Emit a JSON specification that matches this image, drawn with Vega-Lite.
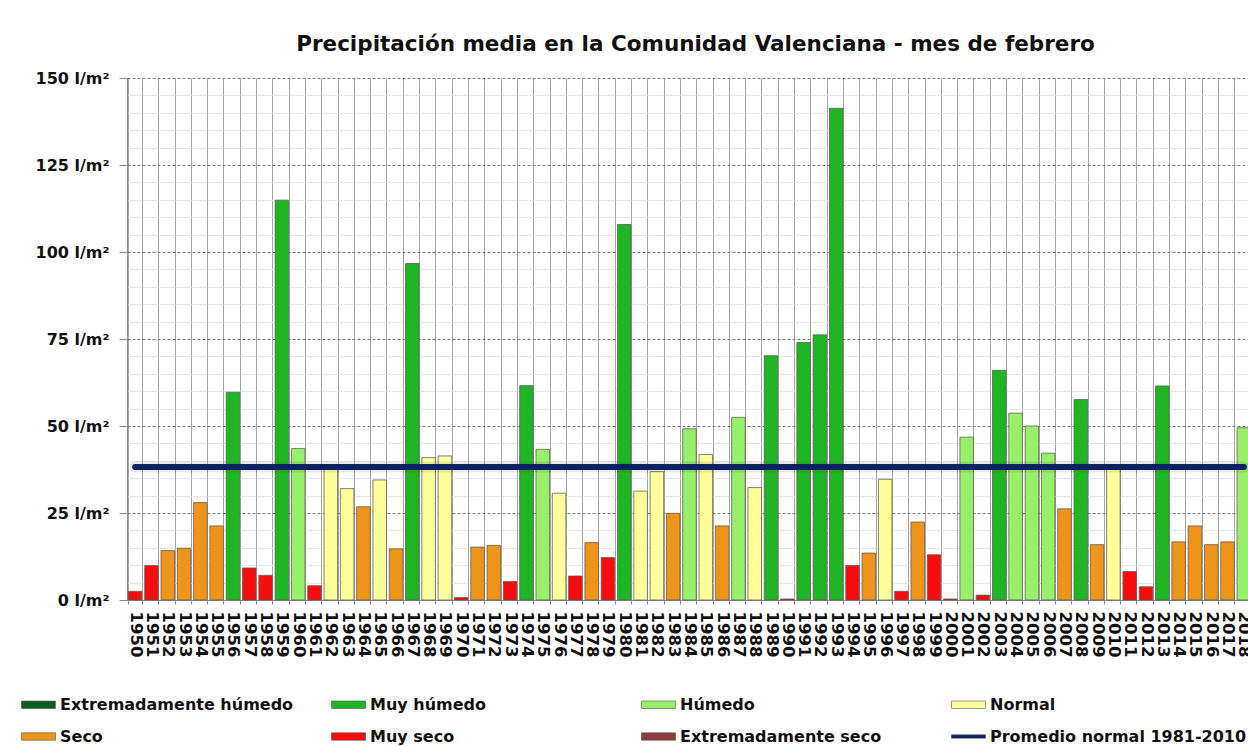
{
  "$schema": "https://vega.github.io/schema/vega-lite/v6.json",
  "autosize": "none",
  "padding": {"left": 127, "top": 78, "right": 0, "bottom": 146},
  "width": 1125,
  "height": 522,
  "background": "white",
  "title": {
    "text": "Precipitación media en la Comunidad Valenciana - mes de febrero",
    "font": "DejaVu Sans",
    "fontSize": 21.5,
    "fontWeight": "bold",
    "color": "#111111",
    "anchor": "middle",
    "dx": 6,
    "offset": 15
  },
  "config": {
    "view": {"stroke": null},
    "axis": {"labelFont": "DejaVu Sans", "labelFontWeight": "bold", "labelColor": "#111111"}
  },
  "data": {
    "values": [
      {"year": 1950, "value": 2.5, "cat": "Muy seco"},
      {"year": 1951, "value": 9.9, "cat": "Muy seco"},
      {"year": 1952, "value": 14.2, "cat": "Seco"},
      {"year": 1953, "value": 14.9, "cat": "Seco"},
      {"year": 1954, "value": 28.0, "cat": "Seco"},
      {"year": 1955, "value": 21.3, "cat": "Seco"},
      {"year": 1956, "value": 59.7, "cat": "Muy húmedo"},
      {"year": 1957, "value": 9.2, "cat": "Muy seco"},
      {"year": 1958, "value": 7.1, "cat": "Muy seco"},
      {"year": 1959, "value": 114.9, "cat": "Muy húmedo"},
      {"year": 1960, "value": 43.5, "cat": "Húmedo"},
      {"year": 1961, "value": 4.1, "cat": "Muy seco"},
      {"year": 1962, "value": 37.5, "cat": "Normal"},
      {"year": 1963, "value": 32.0, "cat": "Normal"},
      {"year": 1964, "value": 26.8, "cat": "Seco"},
      {"year": 1965, "value": 34.5, "cat": "Normal"},
      {"year": 1966, "value": 14.7, "cat": "Seco"},
      {"year": 1967, "value": 96.7, "cat": "Muy húmedo"},
      {"year": 1968, "value": 40.9, "cat": "Normal"},
      {"year": 1969, "value": 41.4, "cat": "Normal"},
      {"year": 1970, "value": 0.7, "cat": "Muy seco"},
      {"year": 1971, "value": 15.2, "cat": "Seco"},
      {"year": 1972, "value": 15.7, "cat": "Seco"},
      {"year": 1973, "value": 5.3, "cat": "Muy seco"},
      {"year": 1974, "value": 61.6, "cat": "Muy húmedo"},
      {"year": 1975, "value": 43.3, "cat": "Húmedo"},
      {"year": 1976, "value": 30.7, "cat": "Normal"},
      {"year": 1977, "value": 6.9, "cat": "Muy seco"},
      {"year": 1978, "value": 16.5, "cat": "Seco"},
      {"year": 1979, "value": 12.2, "cat": "Muy seco"},
      {"year": 1980, "value": 107.9, "cat": "Muy húmedo"},
      {"year": 1981, "value": 31.3, "cat": "Normal"},
      {"year": 1982, "value": 36.9, "cat": "Normal"},
      {"year": 1983, "value": 24.9, "cat": "Seco"},
      {"year": 1984, "value": 49.2, "cat": "Húmedo"},
      {"year": 1985, "value": 41.8, "cat": "Normal"},
      {"year": 1986, "value": 21.3, "cat": "Seco"},
      {"year": 1987, "value": 52.5, "cat": "Húmedo"},
      {"year": 1988, "value": 32.3, "cat": "Normal"},
      {"year": 1989, "value": 70.2, "cat": "Muy húmedo"},
      {"year": 1990, "value": 0.3, "cat": "Muy seco"},
      {"year": 1991, "value": 74.0, "cat": "Muy húmedo"},
      {"year": 1992, "value": 76.2, "cat": "Muy húmedo"},
      {"year": 1993, "value": 141.3, "cat": "Muy húmedo"},
      {"year": 1994, "value": 9.9, "cat": "Muy seco"},
      {"year": 1995, "value": 13.5, "cat": "Seco"},
      {"year": 1996, "value": 34.7, "cat": "Normal"},
      {"year": 1997, "value": 2.5, "cat": "Muy seco"},
      {"year": 1998, "value": 22.4, "cat": "Seco"},
      {"year": 1999, "value": 13.0, "cat": "Muy seco"},
      {"year": 2000, "value": 0.3, "cat": "Muy seco"},
      {"year": 2001, "value": 46.8, "cat": "Húmedo"},
      {"year": 2002, "value": 1.4, "cat": "Muy seco"},
      {"year": 2003, "value": 66.0, "cat": "Muy húmedo"},
      {"year": 2004, "value": 53.7, "cat": "Húmedo"},
      {"year": 2005, "value": 50.0, "cat": "Húmedo"},
      {"year": 2006, "value": 42.2, "cat": "Húmedo"},
      {"year": 2007, "value": 26.2, "cat": "Seco"},
      {"year": 2008, "value": 57.6, "cat": "Muy húmedo"},
      {"year": 2009, "value": 15.9, "cat": "Seco"},
      {"year": 2010, "value": 37.5, "cat": "Normal"},
      {"year": 2011, "value": 8.2, "cat": "Muy seco"},
      {"year": 2012, "value": 3.8, "cat": "Muy seco"},
      {"year": 2013, "value": 61.5, "cat": "Muy húmedo"},
      {"year": 2014, "value": 16.7, "cat": "Seco"},
      {"year": 2015, "value": 21.3, "cat": "Seco"},
      {"year": 2016, "value": 15.9, "cat": "Seco"},
      {"year": 2017, "value": 16.7, "cat": "Seco"},
      {"year": 2018, "value": 49.5, "cat": "Húmedo"}
    ]
  },
  "encoding": {
    "x": {
      "field": "year",
      "type": "ordinal",
      "title": null,
      "scale": {"paddingInner": 0.17, "paddingOuter": 0.085},
      "axis": {
        "labelAngle": 90,
        "labelFontSize": 16.5,
        "labelPadding": 7,
        "labelOverlap": false,
        "tickBand": "extent",
        "tickSize": 4,
        "tickColor": "#8a8a8a",
        "domainColor": "#8a8a8a",
        "grid": true,
        "gridColor": "#a6a6a6",
        "gridWidth": 1
      }
    },
    "y": {
      "field": "value",
      "type": "quantitative",
      "title": null,
      "scale": {"domain": [0, 150], "nice": false, "zero": true},
      "axis": {
        "values": [0, 5, 10, 15, 20, 25, 30, 35, 40, 45, 50, 55, 60, 65, 70, 75, 80, 85, 90, 95, 100, 105, 110, 115, 120, 125, 130, 135, 140, 145, 150],
        "labelExpr": "datum.value % 25 === 0 ? datum.value + ' l/m²' : ''",
        "labelOverlap": false,
        "labelFontSize": 16,
        "labelPadding": 10,
        "tickSize": 8,
        "tickColor": "#8a8a8a",
        "tickOpacity": {"condition": {"test": "datum.value % 25 === 0", "value": 1}, "value": 0},
        "domainColor": "#8a8a8a",
        "grid": true,
        "gridColor": {"condition": {"test": "datum.value % 25 === 0", "value": "#7a7a7a"}, "value": "#dadada"},
        "gridDash": {"condition": {"test": "datum.value % 25 === 0", "value": [3, 2]}, "value": [2, 1]},
        "gridWidth": 1
      }
    }
  },
  "layer": [
    {
      "mark": {"type": "bar", "stroke": "#5a5a5a", "strokeWidth": 1, "strokeOpacity": 0.75},
      "encoding": {
        "color": {
          "field": "cat",
          "type": "nominal",
          "scale": {
            "domain": ["Extremadamente húmedo", "Muy húmedo", "Húmedo", "Normal", "Seco", "Muy seco", "Extremadamente seco", "Promedio normal 1981-2010"],
            "range": ["#0b5e1d", "#1fb624", "#98f06a", "#ffff9c", "#ee9419", "#f70d0d", "#8b3d3d", "#0c2260"]
          },
          "legend": {
            "title": null,
            "orient": "none",
            "legendX": -106,
            "legendY": 609,
            "direction": "horizontal",
            "columns": 4,
            "gridAlign": "all",
            "columnPadding": 13,
            "rowPadding": 6,
            "symbolType": "M-1,-0.22H1V0.22H-1Z",
            "symbolSize": 1156,
            "symbolStrokeColor": "#555555",
            "symbolStrokeWidth": 0.6,
            "symbolOpacity": 1,
            "labelFont": "DejaVu Sans",
            "labelFontWeight": "bold",
            "labelFontSize": 16,
            "labelColor": "#111111",
            "labelOffset": 4,
            "labelLimit": 400,
            "encode": {
              "symbols": {
                "update": {
                  "shape": {"signal": "datum.value === 'Promedio normal 1981-2010' ? 'M-1,-0.1H1V0.1H-1Z' : 'M-1,-0.22H1V0.22H-1Z'"}
                }
              }
            }
          }
        }
      }
    },
    {
      "data": {"values": [{"year": 1950, "end": 2018, "value": 38.2}]},
      "mark": {"type": "rule", "color": "#444444", "strokeWidth": 11, "opacity": 0.12, "strokeCap": "round"},
      "encoding": {
        "x2": {"field": "end"}
      }
    },
    {
      "data": {"values": [{"year": 1950, "end": 2018, "value": 38.2}]},
      "mark": {"type": "rule", "color": "#0c2260", "strokeWidth": 6, "strokeCap": "round"},
      "encoding": {
        "x2": {"field": "end"}
      }
    }
  ]
}
